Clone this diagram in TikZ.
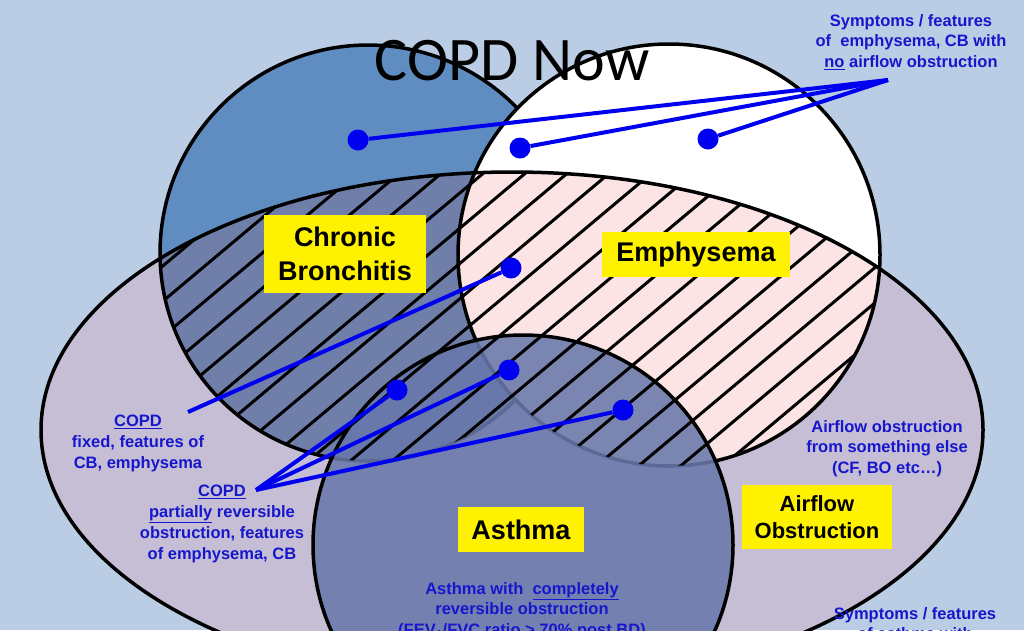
\documentclass[tikz,border=0pt]{standalone}
\usepackage{fontspec}
\setmainfont{Liberation Sans}
\newfontfamily\titlefont{Carlito}
\definecolor{bgblue}{RGB}{186,205,228}
\definecolor{cbblue}{RGB}{95,141,193}
\definecolor{lilac}{RGB}{198,190,212}
\definecolor{cbdark}{RGB}{112,126,170}
\definecolor{pinkish}{RGB}{252,228,228}
\definecolor{asthmablue}{RGB}{105,120,170}
\definecolor{txtblue}{RGB}{22,22,205}
\definecolor{lineblue}{RGB}{0,0,240}
\begin{document}
\begin{tikzpicture}[x=1pt,y=-1pt,
  outline/.style={line width=3.5pt, black},
  hatchline/.style={line width=3pt, black},
  ybox/.style={fill=yellow, inner sep=0pt, align=center, font=\bfseries\fontsize{27}{34}\selectfont},
  bluetxt/.style={align=center, text=txtblue, font=\bfseries\fontsize{16.5}{20.8}\selectfont, inner sep=0pt, anchor=north},
  conn/.style={line width=4pt, lineblue},
  dot/.style={circle, fill=lineblue, minimum size=21pt, inner sep=0pt}]
\useasboundingbox (0,0) rectangle (1024,630);
\clip (0,0) rectangle (1024,630);
\fill[bgblue] (0,0) rectangle (1024,630);
% circles and ellipse fills
\fill[cbblue] (368,253) circle[radius=208];
\fill[white] (669,255) circle[radius=211];
\fill[lilac] (512,430) ellipse[x radius=471, y radius=258];
\begin{scope}
  \clip (512,430) ellipse[x radius=471, y radius=258];
  \fill[cbdark] (368,253) circle[radius=208];
  \fill[pinkish] (669,255) circle[radius=211];
\end{scope}
% title
\node[anchor=base, inner sep=0pt, font=\titlefont\fontsize{62}{70}\selectfont] (title) at (512,80) {COPD Now};
% outlines
\draw[outline] (516.35,398.8) arc[start angle=44.5, end angle=315.9, radius=208];
\draw[outline] (669,255) circle[radius=211];
\draw[outline] (512,430) ellipse[x radius=471, y radius=258];
% asthma
\fill[asthmablue, fill opacity=0.88] (523,545) circle[radius=210];
% hatching
\begin{scope}
  \clip (512,430) ellipse[x radius=471, y radius=258];
  \clip (368,253) circle[radius=208] (669,255) circle[radius=211];
  \foreach \k in {-21,...,7} {
    \draw[hatchline] ({642+42*\k-357.5},763) -- ({642+42*\k+595.9},-37);
  }
\end{scope}
\draw[outline] (523,545) circle[radius=210];
% yellow boxes
\node[ybox, minimum width=162pt, minimum height=78pt] (cb) at (345,254) {Chronic\\Bronchitis};
\node[ybox, minimum width=188pt, minimum height=45pt] (em) at (696,254.5) {Emphysema};
\node[ybox, minimum width=126pt, minimum height=45pt] (as) at (521,529.5) {Asthma};
\node[ybox, minimum width=150pt, minimum height=64pt, font=\bfseries\fontsize{22}{27}\selectfont] (ao) at (817,517) {Airflow\\Obstruction};
% dots
\node[dot] (d1) at (358,140) {};
\node[dot] (d2) at (520,148) {};
\node[dot] (d3) at (708,139) {};
\node[dot] (d4) at (511,268) {};
\node[dot] (d5) at (509,370) {};
\node[dot] (d6) at (397,390) {};
\node[dot] (d7) at (623,410) {};
\coordinate (p1) at (888,80);
\coordinate (p2) at (188,412);
\coordinate (p3) at (256,490);
\draw[conn] (p1) -- (d1);
\draw[conn] (p1) -- (d2);
\draw[conn] (p1) -- (d3);
\draw[conn] (p2) -- (d4);
\draw[conn] (p3) -- (d5);
\draw[conn] (p3) -- (d6);
\draw[conn] (p3) -- (d7);
% blue texts
\node[bluetxt] (t1) at (911,14) {Symptoms / features\\of\ \ emphysema, CB with\\\underline{no} airflow obstruction};
\node[bluetxt] (t2) at (138,415) {\underline{COPD}\\fixed, features of\\CB, emphysema};
\node[bluetxt] (t3) at (222,485) {\underline{COPD}\\\underline{partially} reversible\\obstruction, features\\of emphysema, CB};
\node[bluetxt] (t4) at (887,420) {Airflow obstruction\\from something else\\(CF, BO etc\dots)};
\node[bluetxt] (t5) at (522,582) {Asthma with\ \ \underline{completely}\\reversible obstruction\\(FEV\textsubscript{1}/FVC ratio > 70\% post BD)};
\node[bluetxt] (t6) at (915,607) {Symptoms / features\\of asthma with};
\end{tikzpicture}
\end{document}
